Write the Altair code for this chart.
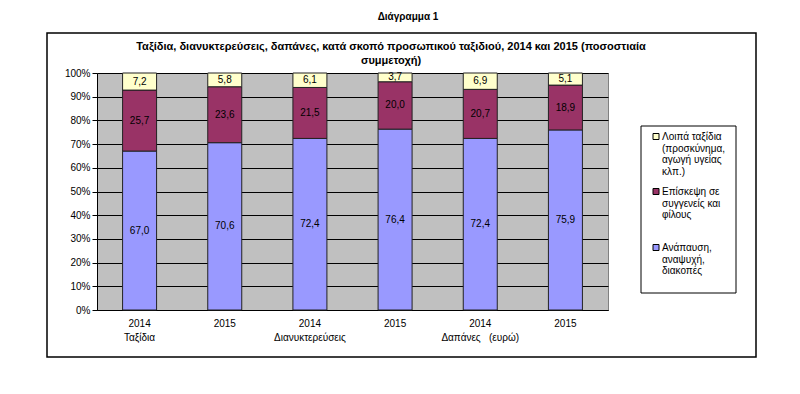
import json
import altair as alt
import pandas as pd

FONT = "Liberation Sans"

# ---- data -----------------------------------------------------------------
x_labels = [
    ["2014", "Ταξίδια"],
    ["2015", ""],
    ["2014", "Διανυκτερεύσεις"],
    ["2015", ""],
    ["2014", "Δαπάνες\u00a0\u00a0\u00a0(ευρώ)"],
    ["2015", ""],
]
series = [
    "Ανάπαυση, αναψυχή, διακοπές",
    "Επίσκεψη σε συγγενείς και φίλους",
    "Λοιπά ταξίδια (προσκύνημα, αγωγή υγείας κλπ.)",
]
leisure = [67.0, 70.6, 72.4, 76.4, 72.4, 75.9]
visits = [25.7, 23.6, 21.5, 20.0, 20.7, 18.9]
other = [7.2, 5.8, 6.1, 3.7, 6.9, 5.1]
colors = ["#9999FF", "#993366", "#FFFFCC"]

y_ticks = [0.0, 0.1, 0.2, 0.3, 0.4, 0.5, 0.6, 0.7, 0.8, 0.9, 1.0]

legend_lines = [
    ["Λοιπά ταξίδια", "(προσκύνημα,", "αγωγή υγείας", "κλπ.)"],
    ["Επίσκεψη σε", "συγγενείς και", "φίλους"],
    ["Ανάπαυση,", "αναψυχή,", "διακοπές"],
]
legend_colors = ["#FFFFCC", "#993366", "#9999FF"]

outer_title = "Διάγραμμα 1"
chart_title = [
    "Ταξίδια, διανυκτερεύσεις, δαπάνες, κατά σκοπό προσωπικού ταξιδιού, 2014 και 2015 (ποσοστιαία",
    "συμμετοχή)",
]

# ---- table ----------------------------------------------------------------
rows = []
for s_i, (name, vals) in enumerate(zip(series, [leisure, visits, other])):
    for i, v in enumerate(vals):
        rows.append({
            "idx": i,
            "series": name,
            "order": s_i,
            "value": v,
            "label": f"{v:.1f}".replace(".", ","),
        })
df = pd.DataFrame(rows)
one = pd.DataFrame({"a": [0]})

W, H = 511, 237

label_expr = json.dumps(x_labels, ensure_ascii=False) + "[datum.value]"

x_axis = alt.Axis(
    title=None,
    labelExpr=label_expr,
    labelAngle=0,
    labelFont=FONT,
    labelFontSize=10,
    labelColor="#000000",
    labelLineHeight=14,
    labelPadding=8,
    ticks=False,
    domainColor="#000000",
    domainWidth=1,
    grid=False,
)
y_axis = alt.Axis(
    title=None,
    format=".0%",
    values=y_ticks,
    tickCount=len(y_ticks) + 5,
    labelOverlap=False,
    labelFont=FONT,
    labelFontSize=10,
    labelColor="#000000",
    labelPadding=2,
    tickSize=5,
    tickColor="#000000",
    domainColor="#000000",
    grid=True,
    gridColor="#000000",
    gridWidth=1,
    gridOpacity=1,
)
x_scale = alt.Scale(paddingInner=0, paddingOuter=0)
y_scale = alt.Scale(domain=[0, 1], nice=False)

base = alt.Chart(df).transform_stack(
    stack="value",
    groupby=["idx"],
    as_=["y0", "y1"],
    offset="normalize",
    sort=[alt.SortField("order", order="ascending")],
).transform_calculate(mid="(datum.y0 + datum.y1) / 2")

bars = base.mark_bar(size=34, stroke="#222222", strokeWidth=1).encode(
    x=alt.X("idx:O", scale=x_scale, axis=x_axis),
    y=alt.Y("y0:Q", scale=y_scale, axis=y_axis),
    y2="y1:Q",
    color=alt.Color("series:N", scale=alt.Scale(domain=series, range=colors), legend=None),
)

texts = base.mark_text(font=FONT, fontSize=10, color="#000000", baseline="middle").encode(
    x=alt.X("idx:O", scale=x_scale, axis=x_axis),
    y=alt.Y("mid:Q", scale=y_scale, axis=y_axis),
    text="label:N",
)

# ---- decorations -----------------------------------------------------------
outer_box = alt.Chart(one).mark_rect(fill=None, fillOpacity=0, stroke="#000000", strokeWidth=1.5).encode(
    x=alt.value(-50), x2=alt.value(659), y=alt.value(-40), y2=alt.value(284)
)
top_title = alt.Chart(one).mark_text(
    font=FONT, fontSize=10, fontWeight="bold", align="center", baseline="middle", color="#000000"
).encode(x=alt.value(311), y=alt.value(-56), text=alt.value(outer_title))

title_txt = alt.Chart(one).mark_text(
    font=FONT, fontSize=11, fontWeight="bold", align="center", baseline="alphabetic",
    lineHeight=14, color="#000000"
).encode(x=alt.value(294), y=alt.value(-23), text=alt.value(chart_title))

legend_box = alt.Chart(one).mark_rect(fill="#FFFFFF", stroke="#000000", strokeWidth=1).encode(
    x=alt.value(544), x2=alt.value(639), y=alt.value(53), y2=alt.value(220)
)

legend_layers = [legend_box]
first_y = [63.5, 118.5, 174.5]
for lines, col, cy in zip(legend_lines, legend_colors, first_y):
    legend_layers.append(
        alt.Chart(one).mark_rect(fill=col, stroke="#000000", strokeWidth=1).encode(
            x=alt.value(556), x2=alt.value(562), y=alt.value(cy - 3), y2=alt.value(cy + 3)
        )
    )
    legend_layers.append(
        alt.Chart(one).mark_text(
            font=FONT, fontSize=10, align="left", baseline="alphabetic", lineHeight=11.7, color="#000000"
        ).encode(x=alt.value(565), y=alt.value(cy + 3.5), text=alt.value(lines))
    )

chart = alt.layer(
    outer_box, top_title, title_txt, bars, texts, *legend_layers
).properties(
    width=W,
    height=H,
    autosize=alt.AutoSizeParams(type="none"),
    padding={"left": 89, "top": 65, "right": 180, "bottom": 70},
    background="#FFFFFF",
).configure_view(
    fill="#C0C0C0", stroke="#808080", strokeWidth=1
)

chart.save("out.html", embed_options={"renderer": "svg", "actions": False})
